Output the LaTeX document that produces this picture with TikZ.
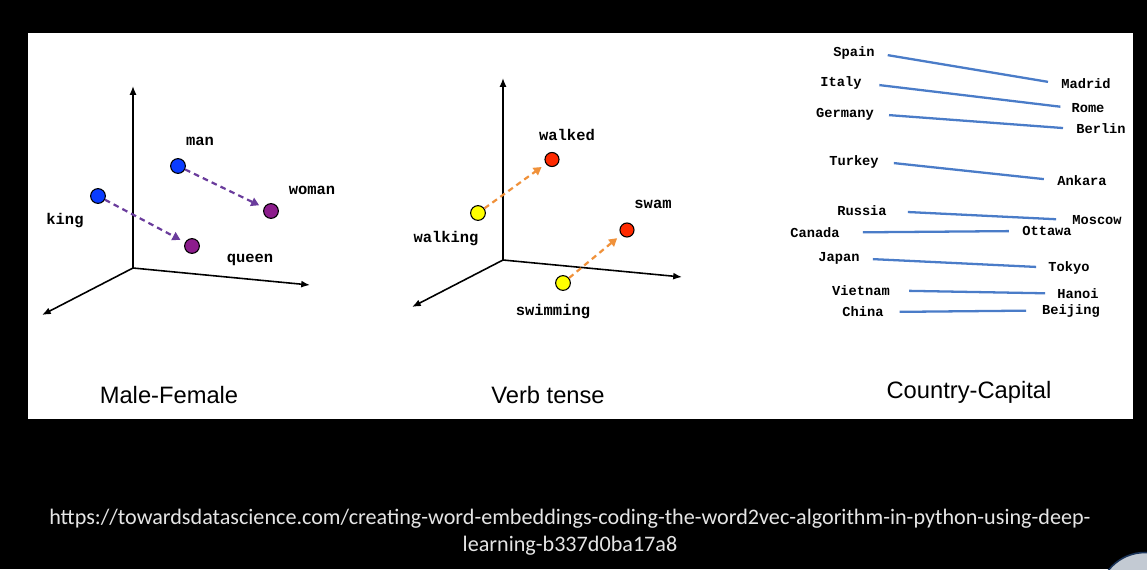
\documentclass[tikz,border=0pt]{standalone}
\usepackage{fontspec}
\usetikzlibrary{arrows.meta}
\newfontfamily\monofont{Liberation Mono}
\newfontfamily\titlefont{Liberation Sans}
\newfontfamily\urlfont{Carlito}
\definecolor{dotblue}{HTML}{0A3CFF}
\definecolor{dotpurple}{HTML}{8C1C8C}
\definecolor{dotyellow}{HTML}{FFFF00}
\definecolor{dotred}{HTML}{FF2A00}
\definecolor{shiftpurple}{HTML}{6A3C9C}
\definecolor{shiftorange}{HTML}{F0913A}
\definecolor{capline}{HTML}{4A7CC8}
\definecolor{buttonfill}{HTML}{C3CAD3}
\definecolor{buttonedge}{HTML}{1A3358}

\begin{document}
\begin{tikzpicture}[x=0.02cm,y=-0.02cm,
  dot/.style={circle,draw=black,line width=0.6pt,inner sep=0pt,minimum size=8.4pt},
  word/.style={font=\monofont\bfseries\fontsize{8.8}{10}\selectfont},
  city/.style={font=\monofont\bfseries\fontsize{7.8}{9}\selectfont,inner sep=0pt},
  axis/.style={line width=0.9pt,-{Latex[length=5pt,width=4pt]}},
  shiftvec/.style={dash pattern=on 3.2pt off 2.4pt,line width=1.25pt,
    shorten >=3pt,-{Triangle[length=4.5pt,width=5pt]}},
  pair/.style={capline,line width=1.3pt,shorten <=8pt,shorten >=7.5pt},
  caption/.style={font=\titlefont\fontsize{13.5}{16}\selectfont,anchor=base}]
  % Frame: black screen, white slide.
  \useasboundingbox (0,0) rectangle (1147,569);
  \clip (0,0) rectangle (1147,569);
  \fill[black] (0,0) rectangle (1147,569);
  \fill[white] (28,33) rectangle (1133,419);

  % Male-Female.
  \coordinate (o1) at (133,268);
  \coordinate (up1) at (133,86);
  \coordinate (right1) at (310,285);
  \coordinate (left1) at (42,315);
  \draw[axis] (o1) -- (up1);
  \draw[axis] (o1) -- (right1);
  \draw[axis] (o1) -- (left1);
  \node[dot,fill=dotblue] (king) at (98,196) {};
  \node[dot,fill=dotblue] (man) at (178,166) {};
  \node[dot,fill=dotpurple] (woman) at (271,211) {};
  \node[dot,fill=dotpurple] (queen) at (192,246) {};
  \draw[shiftvec,shiftpurple] (king) -- (queen);
  \draw[shiftvec,shiftpurple] (man) -- (woman);
  \node[word] (kinglbl) at (65,221) {king};
  \node[word] (manlbl) at (200,141) {man};
  \node[word] (womanlbl) at (312,190) {woman};
  \node[word] (queenlbl) at (250,260) {queen};
  \node[caption] (mf) at (169,403.5) {Male-Female};

  % Verb tense.
  \coordinate (o2) at (503,260);
  \coordinate (up2) at (503,78);
  \coordinate (right2) at (682,277);
  \coordinate (left2) at (412,307);
  \draw[axis] (o2) -- (up2);
  \draw[axis] (o2) -- (right2);
  \draw[axis] (o2) -- (left2);
  \node[dot,fill=dotyellow] (walking) at (478,213) {};
  \node[dot,fill=dotred,minimum size=8pt] (walked) at (552,159.5) {};
  \node[dot,fill=dotyellow] (swimming) at (563,283) {};
  \node[dot,fill=dotred,minimum size=8pt] (swam) at (627,230) {};
  \draw[shiftvec,shiftorange] (walking) -- (walked);
  \draw[shiftvec,shiftorange] (swimming) -- (swam);
  \node[word] (walkedlbl) at (567,135) {walked};
  \node[word] (swamlbl) at (653,204) {swam};
  \node[word] (walkinglbl) at (446,239) {walking};
  \node[word] (swimminglbl) at (553,312) {swimming};
  \node[caption] (vt) at (548,403) {Verb tense};

  % Country-Capital.
  \node[city] (spain) at (854,53) {Spain};
  \node[city] (madrid) at (1086,84) {Madrid};
  \node[city] (italy) at (841,83) {Italy};
  \node[city] (rome) at (1088,108) {Rome};
  \node[city] (germany) at (845,114) {Germany};
  \node[city] (berlin) at (1101,129) {Berlin};
  \node[city] (turkey) at (854,161.5) {Turkey};
  \node[city] (ankara) at (1082,180.5) {Ankara};
  \node[city] (russia) at (862,211) {Russia};
  \node[city] (moscow) at (1097,220) {Moscow};
  \node[city] (canada) at (815,232.5) {Canada};
  \node[city] (ottawa) at (1047,231) {Ottawa};
  \node[city] (japan) at (839,258.5) {Japan};
  \node[city] (tokyo) at (1069,267.5) {Tokyo};
  \node[city] (vietnam) at (861,290.5) {Vietnam};
  \node[city] (hanoi) at (1078,293.5) {Hanoi};
  \node[city] (china) at (863,312) {China};
  \node[city] (beijing) at (1071,310.5) {Beijing};
  \draw[pair,shorten <=7.4pt] (spain.east) -- (madrid.west);
  \draw[pair,shorten <=10pt,shorten >=6.2pt] (italy.east) -- (rome.west);
  \draw[pair,shorten <=8.5pt,shorten >=7.4pt] (germany.east) -- (berlin.west);
  \draw[pair,shorten <=8.5pt] (turkey.east) -- (ankara.west);
  \draw[pair,shorten <=11.9pt,shorten >=9pt] (russia.east) -- (moscow.west);
  \draw[pair,shorten <=13pt,shorten >=7.4pt] (canada.east) -- (ottawa.west);
  \draw[pair,shorten <=7.4pt,shorten >=6.8pt] (japan.east) -- (tokyo.west);
  \draw[pair,shorten <=10.8pt,shorten >=6.8pt] (vietnam.east) -- (hanoi.west);
  \draw[pair,shorten <=9pt,shorten >=9pt] (china.east) -- (beijing.west);
  \node[caption] (cc) at (969,398.5) {Country-Capital};

  % Source link under the slide.
  \node[font=\urlfont\fontsize{12.6}{15}\selectfont,text=white!90!black,anchor=base]
    (url1) at (570,524) {https://towardsdatascience.com/creating-word-embeddings-coding-the-word2vec-algorithm-in-python-using-deep-};
  \node[font=\urlfont\fontsize{12.6}{15}\selectfont,text=white!90!black,anchor=base]
    (url2) at (570,551) {learning-b337d0ba17a8};

  % Player button in the corner.
  \filldraw[fill=buttonfill,draw=buttonedge,line width=0.9pt] (1145,599) circle (0.93cm);
\end{tikzpicture}
\end{document}
